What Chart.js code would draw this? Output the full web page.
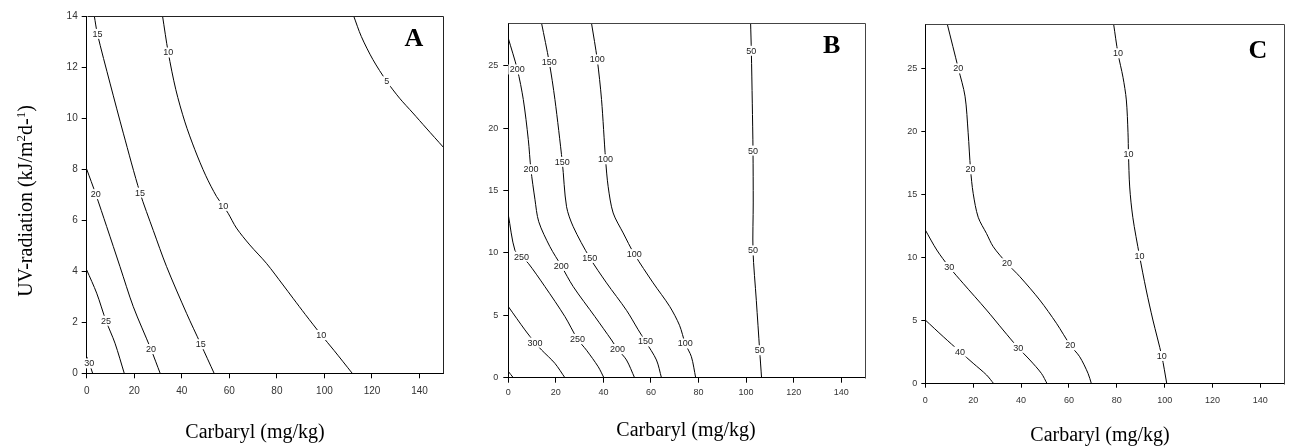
<!DOCTYPE html>
<html>
<head>
<meta charset="utf-8">
<script src="https://cdn.jsdelivr.net/npm/chart.js@4/dist/chart.umd.min.js"></script>
<style>
  html, body { margin: 0; padding: 0; background: #fff; width: 1293px; height: 448px; overflow: hidden; }
  canvas { position: absolute; top: 0; }
</style>
</head>
<body>
<canvas id="panelA" width="470" height="448" style="left:0px"></canvas>
<canvas id="panelB" width="410" height="448" style="left:470px"></canvas>
<canvas id="panelC" width="413" height="448" style="left:880px"></canvas>
<script>
// Tick values shared by the three response-surface panels
const carbarylTicks = [0, 20, 40, 60, 80, 100, 120, 140];
const uvTicksA = [0, 2, 4, 6, 8, 10, 12, 14];
const uvTicksBC = [0, 5, 10, 15, 20, 25];

// Panel A — isolines as [carbaryl mg/kg, UV kJ/m²d⁻¹] vertices
const levelsA = [30, 25, 20, 15, 10, 5];
const linesA = [
  [[0, 0.65], [1.1, 0.39], [2.5, 0]],
  [[0, 4.05], [4.2, 3.14], [8.1, 2.06], [11.9, 1.18], [15.8, 0]],
  [[0, 8.0], [3.8, 7.02], [8.4, 5.75], [14, 4.18], [19.6, 2.61], [27, 0.95], [30.9, 0]],
  [[3.2, 14], [4.5, 13.3], [9.8, 11.37], [15.4, 9.41], [22.4, 7.08], [28, 5.6], [33.6, 4.18], [42, 2.35], [48, 1.14], [53.6, 0]],
  [[31.9, 14], [34.3, 12.57], [37.5, 11.11], [41.3, 9.85], [45.5, 8.76], [50.1, 7.74], [54.6, 6.93], [57.4, 6.56], [59.5, 6.27], [63, 5.69], [68.6, 5.03], [75.6, 4.31], [82.6, 3.46], [86.8, 2.94], [92, 2.3], [98.7, 1.5], [104, 0.9], [111.7, 0]],
  [[112.3, 14], [115.5, 13.2], [120.4, 12.29], [126.2, 11.44], [131.6, 10.78], [137.2, 10.2], [142.8, 9.61], [150, 8.86]]
];
const labelAtA = [[1], [2], [1, 5], [1, 4, 8], [1, 7, 15], [3]];

// Panel B
const levelsB = [350, 300, 250, 200, 150, 100, 50];
const linesB = [
  [[0, 0.5], [2.1, 0]],
  [[0, 5.7], [7, 3.83], [11.2, 2.81], [14, 2.22], [19.6, 1.15], [23.8, 0]],
  [[0, 13.05], [2.8, 10.2], [5.6, 9.7], [8.4, 9.17], [15.4, 7.3], [23.8, 4.9], [29.1, 3.1], [32.9, 2.2], [37.8, 0.88], [40.2, 0]],
  [[0, 27.2], [3.8, 24.7], [6.3, 22.3], [8.4, 19.1], [9.5, 16.7], [11.2, 14.3], [12.8, 12.5], [17.5, 10.5], [22.3, 8.96], [27.3, 7.3], [36.4, 4.9], [43.4, 3.02], [45.9, 2.3], [49.7, 1.42], [53.1, 0]],
  [[14, 28.4], [17.2, 25.3], [19.6, 22.3], [22.7, 17.3], [24.5, 13.7], [27.3, 12.1], [34.3, 9.6], [41.3, 7.6], [49.7, 5.4], [54.6, 3.85], [57.7, 2.9], [62.3, 1.42], [64.4, 0]],
  [[35, 28.4], [37.4, 25.5], [39.2, 22.3], [40.9, 17.5], [42, 15.3], [44.1, 13.2], [48.3, 11.6], [53, 9.9], [60.9, 7.6], [67.9, 5.7], [72, 4.2], [74.4, 2.74], [77, 1.68], [78.8, 0]],
  [[101.9, 28.4], [102.2, 26.2], [102.6, 22], [102.9, 18.2], [103, 14], [102.9, 10.2], [104.3, 6.2], [105.7, 2.2], [106.5, 0]]
];
const labelAtB = [[], [2], [2, 6], [1, 4, 8, 12], [1, 3, 6, 10], [1, 3, 7, 11], [1, 3, 5, 7]];

// Panel C
const levelsC = [40, 30, 20, 10];
const linesC = [
  [[0, 5.05], [7.5, 3.73], [14.5, 2.54], [20, 1.62], [25.6, 0.69], [28.6, 0]],
  [[0, 12.19], [4.8, 10.6], [10, 9.25], [15.8, 7.96], [25.6, 5.84], [32.5, 4.26], [38.8, 2.85], [43.7, 1.88], [48.5, 0.82], [50.9, 0]],
  [[9.2, 28.5], [13.8, 25], [16.6, 22.8], [17.9, 19.9], [18.9, 17], [20, 15.1], [22.1, 13.2], [25.6, 11.9], [28.4, 10.86], [34.1, 9.55], [39.5, 8.49], [47.8, 6.64], [54.8, 4.79], [60.6, 3.05], [64.5, 2.14], [68, 0.82], [69.4, 0]],
  [[78.7, 28.5], [80.5, 26.2], [82.6, 24.3], [84, 22.5], [84.7, 19.9], [84.9, 18.2], [85.4, 15.6], [86.7, 13.2], [89.5, 10.15], [92.3, 7.43], [95.1, 5.05], [98.8, 2.2], [100.9, 0]]
];
const labelAtC = [[2], [2, 6], [1, 4, 9, 13], [1, 5, 8, 11]];

const SANS = "'Liberation Sans', Arial, sans-serif";
const SERIF = "'Liberation Serif', 'Times New Roman', serif";

// Inline level labels: a white box interrupts the isoline, the level is printed inside
const isolineLabels = {
  id: 'isolineLabels',
  afterDatasetsDraw(chart, args, opts) {
    const { ctx, scales: { x, y } } = chart;
    ctx.save();
    ctx.font = opts.size + 'px ' + SANS;
    ctx.textAlign = 'center';
    ctx.textBaseline = 'middle';
    chart.data.datasets.forEach((ds, i) => {
      (opts.at[i] || []).forEach(k => {
        const p = ds.data[k];
        const px = x.getPixelForValue(p.x), py = y.getPixelForValue(p.y);
        const txt = String(ds.level);
        const w = ctx.measureText(txt).width + 3;
        ctx.fillStyle = '#fff';
        ctx.fillRect(px - w / 2, py - 5, w, 10);
        ctx.fillStyle = '#222';
        ctx.fillText(txt, px, py + 0.5);
      });
    });
    ctx.restore();
  }
};

// Closing frame, panel letter and axis titles
const frameAndTitles = {
  id: 'frameAndTitles',
  afterDraw(chart, args, opts) {
    const { ctx, chartArea: a } = chart;
    ctx.save();
    ctx.strokeStyle = opts.frameColor;
    ctx.lineWidth = 1;
    ctx.beginPath();
    ctx.moveTo(Math.round(a.left) + 0.5, Math.round(a.top) + 0.5);
    ctx.lineTo(Math.round(a.right) + 0.5, Math.round(a.top) + 0.5);
    ctx.lineTo(Math.round(a.right) + 0.5, Math.round(a.bottom) + 0.5);
    ctx.stroke();

    ctx.fillStyle = '#000';
    ctx.textAlign = 'center';
    ctx.textBaseline = 'alphabetic';
    ctx.font = 'bold 26px ' + SERIF;
    ctx.fillText(opts.letter, opts.letterPos[0], opts.letterPos[1]);

    ctx.font = '20px ' + SERIF;
    ctx.textBaseline = 'middle';
    ctx.fillText('Carbaryl (mg/kg)', opts.xTitlePos[0], opts.xTitlePos[1]);

    if (opts.yTitle) {
      // UV-radiation (kJ/m²d-¹) with raised exponents
      const parts = [
        ['UV-radiation (kJ/m', false], ['2', true], ['d-', false], ['1', true], [')', false]
      ];
      const big = '20px ' + SERIF, small = '13px ' + SERIF;
      let total = 0;
      parts.forEach(([t, sup]) => { ctx.font = sup ? small : big; total += ctx.measureText(t).width; });
      ctx.translate(opts.yTitle[0], opts.yTitle[1]);
      ctx.rotate(-Math.PI / 2);
      ctx.textAlign = 'left';
      ctx.textBaseline = 'alphabetic';
      let cx = -total / 2;
      parts.forEach(([t, sup]) => {
        ctx.font = sup ? small : big;
        ctx.fillText(t, cx, sup ? 0 : 7);
        cx += ctx.measureText(t).width;
      });
    }
    ctx.restore();
  }
};

function axis(ticksArr, max, fontSize, tickLen, pad, size, horizontal) {
  return {
    type: 'linear',
    min: 0,
    max: max,
    afterBuildTicks: s => { s.ticks = ticksArr.map(v => ({ value: v })); },
    afterFit: s => { if (horizontal) s.height = size; else s.width = size; },
    grid: { drawOnChartArea: false, drawTicks: true, tickLength: tickLen, color: '#000', lineWidth: 1 },
    border: { display: true, color: '#000', width: 1 },
    ticks: { font: { family: SANS, size: fontSize }, color: '#333', padding: pad, maxRotation: 0, autoSkip: false }
  };
}

function makePanel(id, levels, lines, labelAt, cfg) {
  const datasets = lines.map((pts, i) => ({
    level: levels[i],
    data: pts.map(([x, y]) => ({ x, y })),
    showLine: true,
    borderColor: '#000',
    borderWidth: 1,
    pointRadius: 0,
    pointHoverRadius: 0,
    tension: 0.3,
    fill: false
  }));
  return new Chart(document.getElementById(id), {
    type: 'scatter',
    data: { datasets },
    options: {
      responsive: false,
      animation: false,
      devicePixelRatio: 1,
      layout: { padding: { left: 0, top: cfg.top, right: cfg.right, bottom: 0 } },
      scales: {
        x: axis(carbarylTicks, 150, cfg.font, cfg.tl, cfg.xPad, cfg.xH, true),
        y: axis(cfg.yTicks, cfg.yMax, cfg.font, cfg.tl, cfg.yPad, cfg.yW, false)
      },
      plugins: {
        legend: { display: false },
        tooltip: { enabled: false },
        isolineLabels: { at: labelAt, size: 9 },
        frameAndTitles: {
          frameColor: cfg.frame,
          letter: cfg.letter,
          letterPos: cfg.letterPos,
          xTitlePos: cfg.xTitlePos,
          yTitle: cfg.yTitle
        }
      }
    },
    plugins: [isolineLabels, frameAndTitles]
  });
}

makePanel('panelA', levelsA, linesA, labelAtA, {
  top: 16, right: 26.7, xH: 74.7, yW: 86.7, font: 10, tl: 5, xPad: 7, yPad: 4,
  yTicks: uvTicksA, yMax: 14, frame: '#222', letter: 'A', letterPos: [414, 46],
  xTitlePos: [255, 433], yTitle: [25, 201]
});
makePanel('panelB', levelsB, linesB, labelAtB, {
  top: 23.3, right: 15, xH: 70.3, yW: 38.3, font: 9, tl: 5, xPad: 4, yPad: 5,
  yTicks: uvTicksBC, yMax: 28.4, frame: '#444', letter: 'B', letterPos: [831.7 - 470, 53],
  xTitlePos: [686 - 470, 431], yTitle: null
});
makePanel('panelC', levelsC, linesC, labelAtC, {
  top: 24.3, right: 8.7, xH: 64.3, yW: 45.3, font: 9, tl: 4, xPad: 7, yPad: 4,
  yTicks: uvTicksBC, yMax: 28.5, frame: '#444', letter: 'C', letterPos: [1258 - 880, 58],
  xTitlePos: [1100 - 880, 436], yTitle: null
});
</script>
</body>
</html>
